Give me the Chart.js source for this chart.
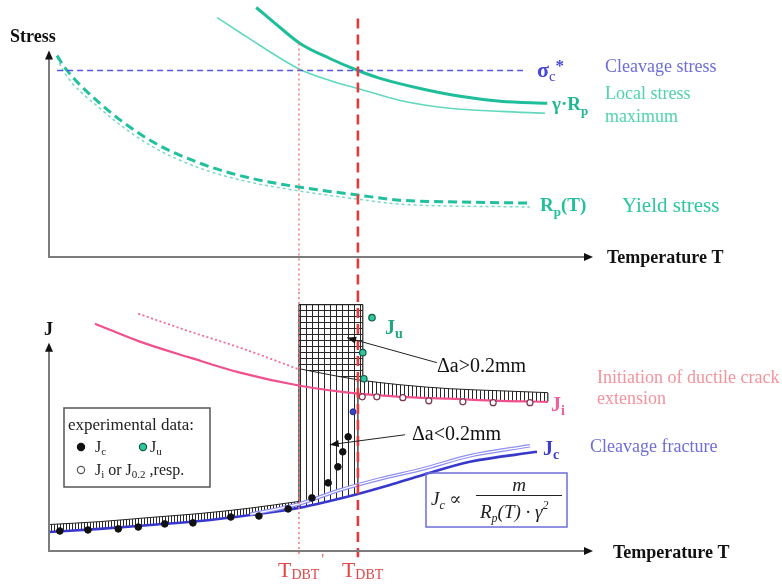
<!doctype html>
<html lang="en">
<head>
<meta charset="utf-8">
<title>Ductile-to-brittle transition: stress and J versus temperature</title>
<script src="https://cdn.jsdelivr.net/npm/chart.js"></script>
<style>
  html, body { margin: 0; padding: 0; background: #fff; }
  #wrap { position: relative; width: 782px; height: 586px; }
  #stress_canvas { position: absolute; left: 0; top: 0; }
  #j_canvas { position: absolute; left: 0; top: 292px; }
</style>
</head>
<body>
<div id="wrap">
  <canvas id="stress_canvas" width="782" height="292"></canvas>
  <canvas id="j_canvas" width="782" height="294"></canvas>
</div>
<script>
// temperature axis runs 0..100 (arbitrary units)
const tDBTprime = 46.2;
const tDBT = 57.1;
const tickTemps = [tDBTprime, tDBT];
const tickLabels = [["T", "DBT", "'"], ["T", "DBT", ""]];

// --- upper panel: stresses ---
const sigmaT = [1.5, 88.0];
const sigmaS = [90.3, 90.3];

const gammaRpT = [38.3, 42.7, 46.4, 51.9, 57.1, 61.2, 68.6, 76.0, 83.4, 92.1];
const gammaRpS = [120.8, 111.1, 103.4, 96.1, 90.3, 86.5, 81.6, 77.8, 75.4, 74.4];

const localMaxT = [31.1, 35.3, 39.0, 46.4, 51.9, 57.1, 64.9, 74.1, 83.4, 91.7];
const localMaxS = [115.9, 108.7, 102.4, 90.8, 85.5, 81.6, 75.8, 72.0, 70.5, 69.6];

const yieldT = [1.5, 2.6, 9.4, 18.7, 27.9, 37.2, 46.4, 57.1, 64.9, 76.0, 88.9];
const yieldS = [97.6, 92.8, 74.4, 56.5, 45.4, 38.2, 33.8, 30.0, 27.5, 26.6, 26.1];

const yieldLowT = [1.5, 2.6, 9.4, 18.7, 27.9, 37.2, 46.4, 57.1, 64.9, 88.9];
const yieldLowS = [96.6, 90.3, 72.0, 54.1, 43.0, 36.2, 31.9, 28.0, 25.6, 24.2];

// --- lower panel: J integral ---
const jiT = [8.5, 16.8, 26.1, 35.3, 46.4, 57.1, 64.9, 74.1, 83.4, 92.2];
const jiJ = [109.1, 100.5, 92.8, 85.6, 79.3, 75.5, 74.0, 73.1, 72.1, 71.6];

const jiUpperT = [16.5, 26.1, 35.3, 46.4];
const jiUpperJ = [113.9, 105.3, 97.6, 87.0];

const jcT = [0, 9.4, 18.7, 27.9, 37.2, 46.2, 51.9, 57.1, 63.0, 69.1, 77.8, 90.2];
const jcJ = [9.1, 10.6, 12.5, 14.4, 17.3, 20.7, 24.0, 27.4, 31.7, 36.5, 42.8, 47.6];

const jcLightT = [37.2, 46.2, 53.8, 61.2, 69.1, 77.8, 88.9];
const jcLightJ = [17.6, 22.6, 29.3, 34.6, 39.4, 45.7, 50.5];

const bandTopT = [0, 9.4, 18.7, 27.9, 37.2, 46.2];
const bandTopJ = [12.7, 14.1, 16.1, 18.0, 20.6, 23.8];

const onsetT = [46.2, 51.9, 57.1, 64.9, 74.1, 83.4, 92.2];
const onsetJ = [87.5, 84.6, 82.2, 79.8, 77.9, 76.9, 76.0];

const gridTopT = [46.2, 58.0];
const gridTopJ = [118.3, 118.3];

const jcPtsT = [2.0, 7.2, 12.8, 16.5, 21.4, 26.6, 33.6, 38.8, 44.2, 48.6, 51.6, 53.4, 54.3, 55.3];
const jcPtsJ = [9.6, 10.1, 10.6, 11.5, 13.0, 13.5, 16.3, 16.8, 20.2, 25.5, 32.7, 40.4, 47.6, 54.8];

const juPtsT = [59.7, 58.0, 58.2];
const juPtsJ = [112.0, 95.2, 82.7];

const jiPtsT = [57.9, 60.6, 65.4, 70.2, 76.5, 82.1, 88.9];
const jiPtsJ = [74.0, 74.0, 73.6, 72.1, 71.6, 71.2, 71.2];

const blueDotT = [56.2];
const blueDotJ = [66.8];

// ---------------------------------------------------------------
const FONT = '"Liberation Serif", "DejaVu Serif", serif';
const f = (size, style) => (style ? style + ' ' : '') + size + 'px ' + FONT;

const pts = (xs, ys) => xs.map((v, i) => ({x: v, y: ys[i]}));
const within = (xs, ys, lo, hi) => pts(xs, ys).filter(p => p.x >= lo - 1e-9 && p.x <= hi + 1e-9);
function valueAt(xs, ys, t) {
    for (let i = 1; i < xs.length; i++) {
        if (t <= xs[i]) {
            const k = (t - xs[i - 1]) / (xs[i] - xs[i - 1]);
            return ys[i - 1] + k * (ys[i] - ys[i - 1]);
        }
    }
    return ys[ys.length - 1];
}

function line(data, color, width, extra) {
    return Object.assign({data: data, borderColor: color, borderWidth: width,
                          pointRadius: 0, fill: false}, extra || {});
}
const straight = {cubicInterpolationMode: 'default', tension: 0};
const NONE = 'rgba(0,0,0,0)';

function hatch(ctx, step, grid) {
    const c = document.createElement('canvas');
    c.width = step; c.height = step;
    const g = c.getContext('2d');
    g.fillStyle = '#262626';
    g.fillRect(0, 0, 1, step);
    if (grid) g.fillRect(0, 0, step, 1);
    return ctx.createPattern(c, 'repeat');
}

// text with sub/superscripts: parts = [{text, font, color, dy}]
function rich(ctx, x, y, parts) {
    ctx.textBaseline = 'alphabetic';
    ctx.textAlign = 'left';
    for (const p of parts) {
        ctx.font = p.font;
        ctx.fillStyle = p.color;
        ctx.fillText(p.text, x, y + (p.dy || 0));
        x += ctx.measureText(p.text).width;
    }
    return x;
}

function head(ctx, x, y, ang, len, half) {
    len = len || 9; half = half || 4;
    const c = Math.cos(ang), s = Math.sin(ang);
    ctx.beginPath();
    ctx.moveTo(x, y);
    ctx.lineTo(x - len * c + half * s, y - len * s - half * c);
    ctx.lineTo(x - len * c - half * s, y - len * s + half * c);
    ctx.closePath();
    ctx.fill();
}

function drawAxes(ctx, x0, y0, x1, y1) {
    ctx.save();
    ctx.strokeStyle = '#7c7c7c';
    ctx.lineWidth = 2;
    ctx.beginPath();
    ctx.moveTo(x0, y1 + 6);
    ctx.lineTo(x0, y0);
    ctx.lineTo(x1 - 4, y0);
    ctx.stroke();
    ctx.fillStyle = '#111';
    head(ctx, x0, y1, -Math.PI / 2);
    head(ctx, x1 + 3, y0, 0);
    ctx.restore();
}

function vline(ctx, x, yFrom, yTo, dashed) {
    ctx.save();
    if (dashed) {
        ctx.strokeStyle = '#e63a3a'; ctx.lineWidth = 2.6; ctx.setLineDash([10, 6]);
    } else {
        ctx.strokeStyle = '#f27070'; ctx.lineWidth = 1.4; ctx.setLineDash([2, 3]);
    }
    ctx.beginPath();
    ctx.moveTo(x, yFrom);
    ctx.lineTo(x, yTo);
    ctx.stroke();
    ctx.restore();
}

function pointerArrow(ctx, x1, y1, x2, y2) {
    ctx.save();
    ctx.strokeStyle = '#222'; ctx.fillStyle = '#111'; ctx.lineWidth = 1;
    ctx.beginPath(); ctx.moveTo(x1, y1); ctx.lineTo(x2, y2); ctx.stroke();
    head(ctx, x2, y2, Math.atan2(y2 - y1, x2 - x1), 9, 3.5);
    ctx.restore();
}

function baseOptions(yMax, pad) {
    return {
        responsive: false,
        animation: false,
        events: [],
        layout: {padding: pad},
        elements: {
            point: {radius: 0},
            line: {cubicInterpolationMode: 'monotone'}
        },
        plugins: {legend: {display: false}, tooltip: {enabled: false}},
        scales: {
            x: {type: 'linear', min: 0, max: 100, display: false},
            y: {type: 'linear', min: 0, max: yMax, display: false}
        }
    };
}

// ---------------- upper panel ----------------
const stressDecor = {
    id: 'stressDecor',
    afterDatasetsDraw(chart) {
        const {ctx, scales: {x, y}} = chart;
        vline(ctx, x.getPixelForValue(tDBTprime), y.getPixelForValue(103.4), chart.height, false);
        vline(ctx, x.getPixelForValue(tDBT), y.getPixelForValue(115.5), chart.height, true);
    },
    afterDraw(chart) {
        const {ctx, scales: {x, y}} = chart;
        drawAxes(ctx, x.getPixelForValue(0), y.getPixelForValue(0),
                 x.getPixelForValue(100), y.getPixelForValue(100));
        const black = '#111';
        rich(ctx, 10, 42, [{text: 'Stress', font: f(18, 'bold'), color: black}]);
        rich(ctx, 607, 263, [{text: 'Temperature T', font: f(18, 'bold'), color: black}]);

        const blue = '#4646dc';
        rich(ctx, 537, 77, [
            {text: 'σ', font: f(22, 'bold'), color: blue},
            {text: 'c', font: f(15), color: blue, dy: 4},
            {text: '*', font: f(17, 'bold'), color: blue, dy: -6}
        ]);
        rich(ctx, 605, 72, [{text: 'Cleavage stress', font: f(18), color: '#6e6ed6'}]);

        const teal = '#1fb892';
        rich(ctx, 552, 110, [
            {text: 'γ·R', font: f(19, 'bold'), color: teal},
            {text: 'p', font: f(13, 'bold'), color: teal, dy: 5}
        ]);
        rich(ctx, 605, 99, [{text: 'Local stress', font: f(18), color: '#4fd2ad'}]);
        rich(ctx, 605, 122, [{text: 'maximum', font: f(18), color: '#4fd2ad'}]);

        rich(ctx, 540, 211, [
            {text: 'R', font: f(19, 'bold'), color: '#22c09c'},
            {text: 'p', font: f(13, 'bold'), color: '#22c09c', dy: 5},
            {text: '(T)', font: f(19, 'bold'), color: '#22c09c'}
        ]);
        rich(ctx, 622, 212, [{text: 'Yield stress', font: f(21), color: '#2cc6a0'}]);
    }
};

new Chart(document.getElementById('stress_canvas'), {
    type: 'line',
    data: {
        datasets: [
            line(pts(sigmaT, sigmaS), '#5656e0', 1.4, {borderDash: [6, 4]}),
            line(pts(gammaRpT, gammaRpS), '#1fbe9a', 3),
            line(pts(localMaxT, localMaxS), '#62d8bf', 1.6),
            line(pts(yieldT, yieldS), '#22c09c', 3, {borderDash: [9, 5]}),
            line(pts(yieldLowT, yieldLowS), '#7ad8c6', 1.5, {borderDash: [3, 3]})
        ]
    },
    options: baseOptions(122, {left: 49, right: 192, top: 5, bottom: 35}),
    plugins: [stressDecor]
});

// ---------------- lower panel ----------------
const jCanvas = document.getElementById('j_canvas');
const jCtx = jCanvas.getContext('2d');

const jDecor = {
    id: 'jDecor',
    afterDatasetsDraw(chart) {
        const {ctx, scales: {x, y}} = chart;
        const bottom = y.getPixelForValue(-3);
        vline(ctx, x.getPixelForValue(tDBTprime), 0, bottom, false);
        vline(ctx, x.getPixelForValue(tDBT), 0, bottom, true);
    },
    afterDraw(chart) {
        const {ctx, scales: {x, y}} = chart;
        const X = v => x.getPixelForValue(v), Y = v => y.getPixelForValue(v);
        drawAxes(ctx, X(0), Y(0), X(100), Y(100));
        const black = '#111';
        rich(ctx, 44, 43, [{text: 'J', font: f(18, 'bold'), color: black}]);
        rich(ctx, 613, 266, [{text: 'Temperature T', font: f(18, 'bold'), color: black}]);

        // transition temperature ticks
        const red = '#e04848';
        tickTemps.forEach((t, i) => {
            const lab = tickLabels[i];
            const start = X(t) - (i === 0 ? 21 : 16);
            const end = rich(ctx, start, 285, [
                {text: lab[0], font: f(22), color: red},
                {text: lab[1], font: f(14), color: red, dy: 2}
            ]);
            if (lab[2]) rich(ctx, end + 2, 272, [{text: lab[2], font: f(14), color: red}]);
        });

        // pointers to the two fracture regimes
        pointerArrow(ctx, X(71.7), Y(90.4), X(55.1), Y(102.4));
        pointerArrow(ctx, X(65.8), Y(55.8), X(51.9), Y(51.0));
        rich(ctx, 437, 80, [{text: 'Δa>0.2mm', font: f(20), color: black}]);
        rich(ctx, 412, 148, [{text: 'Δa<0.2mm', font: f(20), color: black}]);

        const green = '#1fa67e', pink = '#f0609a', blue = '#3c3cd0';
        rich(ctx, 385, 42, [
            {text: 'J', font: f(20, 'bold'), color: green},
            {text: 'u', font: f(14, 'bold'), color: green, dy: 4}
        ]);
        rich(ctx, 551, 119, [
            {text: 'J', font: f(20, 'bold'), color: pink},
            {text: 'i', font: f(14, 'bold'), color: pink, dy: 4}
        ]);
        rich(ctx, 543, 163, [
            {text: 'J', font: f(20, 'bold'), color: blue},
            {text: 'c', font: f(14, 'bold'), color: blue, dy: 4}
        ]);
        rich(ctx, 597, 91, [{text: 'Initiation of ductile crack', font: f(18), color: '#f4929c'}]);
        rich(ctx, 597, 112, [{text: 'extension', font: f(18), color: '#f4929c'}]);
        rich(ctx, 590, 160, [{text: 'Cleavage fracture', font: f(18), color: '#6e6ed6'}]);

        // legend of the experimental points
        ctx.save();
        ctx.fillStyle = '#fff';
        ctx.fillRect(64, 116, 146, 79);
        ctx.strokeStyle = '#555';
        ctx.lineWidth = 1.5;
        ctx.strokeRect(64, 116, 146, 79);
        rich(ctx, 68, 138, [{text: 'experimental data:', font: f(17), color: '#222'}]);
        const dot = (cx, cy, fill, stroke) => {
            ctx.beginPath(); ctx.arc(cx, cy, 3.6, 0, Math.PI * 2);
            ctx.fillStyle = fill; ctx.fill();
            ctx.lineWidth = 1.2; ctx.strokeStyle = stroke; ctx.stroke();
        };
        dot(81, 155, '#111', '#111');
        rich(ctx, 95, 160, [
            {text: 'J', font: f(16), color: '#222'},
            {text: 'c', font: f(11), color: '#222', dy: 3}
        ]);
        dot(143, 155, '#2fc79d', '#0e5c46');
        rich(ctx, 150, 160, [
            {text: 'J', font: f(16), color: '#222'},
            {text: 'u', font: f(11), color: '#222', dy: 3}
        ]);
        dot(81, 178, '#fff', '#555');
        rich(ctx, 95, 183, [
            {text: 'J', font: f(16), color: '#222'},
            {text: 'i', font: f(11), color: '#222', dy: 3},
            {text: ' or J', font: f(16), color: '#222'},
            {text: '0.2', font: f(11), color: '#222', dy: 3},
            {text: ' ,resp.', font: f(16), color: '#222'}
        ]);

        // proportionality for the cleavage toughness
        ctx.strokeStyle = '#6e6ed6';
        ctx.lineWidth = 1.5;
        ctx.strokeRect(426, 181, 141, 54);
        const ink = '#222';
        rich(ctx, 431, 213, [
            {text: 'J', font: f(19, 'italic'), color: ink},
            {text: 'c', font: f(12, 'italic'), color: ink, dy: 4},
            {text: ' ∝', font: f(18), color: ink}
        ]);
        ctx.font = f(19, 'italic');
        const mw = ctx.measureText('m').width;
        rich(ctx, 519 - mw / 2, 199, [{text: 'm', font: f(19, 'italic'), color: ink}]);
        ctx.strokeStyle = ink;
        ctx.lineWidth = 1;
        ctx.beginPath(); ctx.moveTo(476, 203.5); ctx.lineTo(562, 203.5); ctx.stroke();
        rich(ctx, 480, 226, [
            {text: 'R', font: f(19, 'italic'), color: ink},
            {text: 'p', font: f(12, 'italic'), color: ink, dy: 4},
            {text: '(T) · γ', font: f(19, 'italic'), color: ink},
            {text: '2', font: f(12, 'italic'), color: ink, dy: -9}
        ]);
        ctx.restore();
    }
};

const onsetAt = t => valueAt(onsetT, onsetJ, t);
const jcAt = t => valueAt(jcT, jcJ, t);

const jDatasets = [
    /* 0 */ {data: pts(jcPtsT, jcPtsJ), showLine: false, pointRadius: 3.3,
             pointBackgroundColor: '#111', pointBorderColor: '#111'},
    /* 1 */ {data: pts(juPtsT, juPtsJ), showLine: false, pointRadius: 3.2,
             pointBackgroundColor: '#2fc79d', pointBorderColor: '#0e5c46', pointBorderWidth: 1.2},
    /* 2 */ {data: pts(jiPtsT, jiPtsJ), showLine: false, pointRadius: 3,
             pointBackgroundColor: '#fff', pointBorderColor: '#7b3550', pointBorderWidth: 1.2},
    /* 3 */ {data: pts(blueDotT, blueDotJ), showLine: false, pointRadius: 3,
             pointBackgroundColor: '#3346c4', pointBorderColor: '#22309a'},
    /* 4 */ line(pts(jiT, jiJ), '#f0508e', 2.2),
    /* 5 */ line(pts(jiUpperT, jiUpperJ), '#f26a9c', 1.8, {borderDash: [2, 2.5]}),
    /* 6 */ line(pts(jcLightT, jcLightJ), '#ffffff', 1.2),
    /* 7 */ line(pts(jcLightT, jcLightJ), '#8f8ff0', 3.6),
    /* 8 */ line(pts(jcT, jcJ), '#3838cc', 2.6),
    /* 9 */ line(pts(onsetT, onsetJ), '#222', 1),
    /* 10 */ line(pts(gridTopT, gridTopJ), '#222', 1.2,
                  Object.assign({fill: 9, backgroundColor: hatch(jCtx, 6, true)}, straight)),
    /* 11 */ line([{x: gridTopT[0], y: gridTopJ[0]}, {x: gridTopT[0], y: jcAt(gridTopT[0])}],
                  '#222', 1.2, straight),
    /* 12 */ line([{x: gridTopT[1], y: gridTopJ[1]}, {x: gridTopT[1], y: onsetAt(gridTopT[1])}],
                  '#222', 1.2, straight),
    /* 13 */ line([{x: tDBT, y: onsetAt(tDBT)}, {x: tDBT, y: jcAt(tDBT)}], '#222', 1.2, straight),
    /* 14 */ line([{x: onsetT[onsetT.length - 1], y: onsetJ[onsetJ.length - 1]},
                   {x: jiT[jiT.length - 1], y: jiJ[jiJ.length - 1]}], '#222', 1.2, straight),
    /* 15 */ line(pts(bandTopT, bandTopJ), '#222', 1,
                  {fill: 8, backgroundColor: hatch(jCtx, 3, false)}),
    /* 16 */ line(within(jcT, jcJ, tDBTprime, tDBT), NONE, 1,
                  {fill: 9, backgroundColor: hatch(jCtx, 6, false)}),
    /* 17 */ line(within(onsetT, onsetJ, tDBT, 100), NONE, 1,
                  {fill: 4, backgroundColor: hatch(jCtx, 4, false)})
];

new Chart(jCanvas, {
    type: 'line',
    data: {datasets: jDatasets},
    options: baseOptions(120, {left: 49, right: 192, top: 9, bottom: 35}),
    plugins: [jDecor]
});
</script>
</body>
</html>
